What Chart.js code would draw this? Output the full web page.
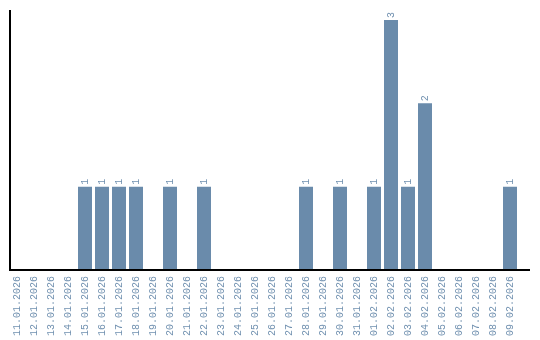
<!DOCTYPE html>
<html>
<head>
<meta charset="utf-8">
<script src="https://cdn.jsdelivr.net/npm/chart.js@4"></script>
<style>
  html, body { margin: 0; padding: 0; background: #fff; }
  #wrap { width: 540px; height: 340px; }
</style>
</head>
<body>
<div id="wrap"><canvas id="chart"></canvas></div>
<script>
// ── Data ───────────────────────────────────────────
const dates = [
  '11.01.2026', '12.01.2026', '13.01.2026', '14.01.2026', '15.01.2026',
  '16.01.2026', '17.01.2026', '18.01.2026', '19.01.2026', '20.01.2026',
  '21.01.2026', '22.01.2026', '23.01.2026', '24.01.2026', '25.01.2026',
  '26.01.2026', '27.01.2026', '28.01.2026', '29.01.2026', '30.01.2026',
  '31.01.2026', '01.02.2026', '02.02.2026', '03.02.2026', '04.02.2026',
  '05.02.2026', '06.02.2026', '07.02.2026', '08.02.2026', '09.02.2026'
];
const counts = [
  0, 0, 0, 0, 1,
  1, 1, 1, 0, 1,
  0, 1, 0, 0, 0,
  0, 0, 1, 0, 1,
  0, 1, 3, 1, 2,
  0, 0, 0, 0, 1
];

const barColor  = '#6a8bab';
const textColor = '#7191b0';
const monoFont  = '"Liberation Mono", monospace';

// ── Axis lines + value labels ──────────────────────
const axisLines = {
  id: 'axisLines',
  afterDatasetsDraw(chart) {
    const { ctx, chartArea } = chart;
    const x0 = chartArea.left + 1.5;
    ctx.save();
    ctx.strokeStyle = '#000';
    ctx.lineWidth = 2;
    ctx.beginPath();
    ctx.moveTo(x0, chartArea.top);
    ctx.lineTo(x0, chartArea.bottom);
    ctx.lineTo(chart.width - 10, chartArea.bottom);
    ctx.stroke();
    ctx.restore();
  }
};

const valueLabels = {
  id: 'valueLabels',
  afterDatasetsDraw(chart) {
    const { ctx } = chart;
    const meta = chart.getDatasetMeta(0);
    ctx.save();
    ctx.fillStyle = textColor;
    ctx.font = '10px ' + monoFont;
    ctx.textAlign = 'left';
    ctx.textBaseline = 'middle';
    meta.data.forEach((bar, i) => {
      const v = counts[i];
      if (!v) return;
      ctx.save();
      ctx.translate(bar.x, bar.y - 2);
      ctx.rotate(-Math.PI / 2);
      ctx.fillText(String(v), 0, 0);
      ctx.restore();
    });
    ctx.restore();
  }
};

// ── Chart ──────────────────────────────────────────
new Chart(document.getElementById('chart'), {
  type: 'bar',
  data: {
    labels: dates,
    datasets: [{
      data: counts,
      backgroundColor: barColor,
      borderWidth: 0,
      categoryPercentage: 1,
      barPercentage: 0.8235,
    }]
  },
  options: {
    responsive: true,
    maintainAspectRatio: false,
    animation: false,
    layout: { padding: { left: 8.5, top: 10, right: 21.5, bottom: 0 } },
    plugins: {
      legend: { display: false },
      tooltip: { enabled: false },
    },
    scales: {
      x: {
        grid: { display: false, drawTicks: false },
        border: { display: false },
        afterFit: scale => { scale.height = 70; },
        ticks: {
          color: textColor,
          font: { family: monoFont, size: 10 },
          minRotation: 90,
          maxRotation: 90,
          padding: 6,
          autoSkip: false,
        }
      },
      y: {
        display: false,
        min: 0,
        max: 3.12,
      }
    }
  },
  plugins: [axisLines, valueLabels]
});
</script>
</body>
</html>
